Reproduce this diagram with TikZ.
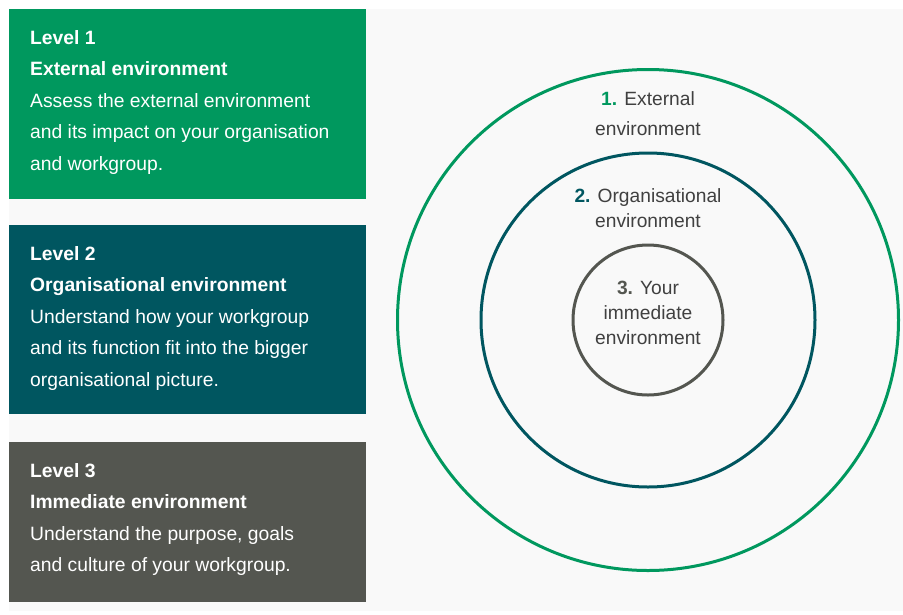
\documentclass[tikz,border=0pt]{standalone}
\usepackage{fontspec}
\setmainfont{Liberation Sans}
\usetikzlibrary{positioning}

\definecolor{levelgreen}{RGB}{0,152,94}
\definecolor{levelteal}{RGB}{0,86,96}
\definecolor{levelgray}{RGB}{84,86,80}
\definecolor{paper}{RGB}{249,249,249}
\definecolor{ink}{RGB}{64,64,64}

\tikzset{
  levelbox/.style={rectangle, anchor=north west, minimum width=357pt, inner sep=0pt},
  leveltext/.style={anchor=north west, align=left, inner sep=0pt, text=white,
    font=\fontsize{19.3}{31.5}\selectfont},
  ring/.style={circle, line width=3pt, inner sep=0pt},
  ringtext/.style={align=center, inner sep=0pt, text=ink,
    font=\fontsize{19.2}{25}\selectfont}
}

\begin{document}
\begin{tikzpicture}[x=1pt,y=-1pt]
\useasboundingbox (0,0) rectangle (903,614);
\fill[paper] (9,9) rectangle (903,611);

\node[levelbox, fill=levelgreen, minimum height=190pt] (box1) at (9,9) {};
\node[levelbox, fill=levelteal, minimum height=189pt] (box2) at (9,225) {};
\node[levelbox, fill=levelgray, minimum height=160pt] (box3) at (9,442) {};

\node[leveltext] (text1) at ([xshift=21pt,yshift=-21pt]box1.north west)
  {\textbf{Level 1}\\ \textbf{External environment}\\ Assess the external environment\\
   and its impact on your organisation\\ and workgroup.};
\node[leveltext] (text2) at ([xshift=21pt,yshift=-21pt]box2.north west)
  {\textbf{Level 2}\\ \textbf{Organisational environment}\\ Understand how your workgroup\\
   and its function fit into the bigger\\ organisational picture.};
\node[leveltext] (text3) at ([xshift=21pt,yshift=-21pt]box3.north west)
  {\textbf{Level 3}\\ \textbf{Immediate environment}\\ Understand the purpose, goals\\
   and culture of your workgroup.};

\node[ring, draw=levelgreen, minimum size=501pt] (outer) at (648,320) {};
\node[ring, draw=levelteal, minimum size=334pt] (middle) at (648,320) {};
\node[ring, draw=levelgray, minimum size=150pt] (inner) at (648,320) {};

\node[ringtext, font=\fontsize{19.2}{30}\selectfont, below=23pt of outer.north] (outerlabel)
  {\textbf{\textcolor{levelgreen}{1.}} External\\ environment};
\node[ringtext, below=37pt of middle.north] (middlelabel)
  {\textbf{\textcolor{levelteal}{2.}} Organisational\\ environment};
\node[ringtext, below=37pt of inner.north] (innerlabel)
  {\textbf{\textcolor{levelgray}{3.}} Your\\ immediate\\ environment};
\end{tikzpicture}
\end{document}
